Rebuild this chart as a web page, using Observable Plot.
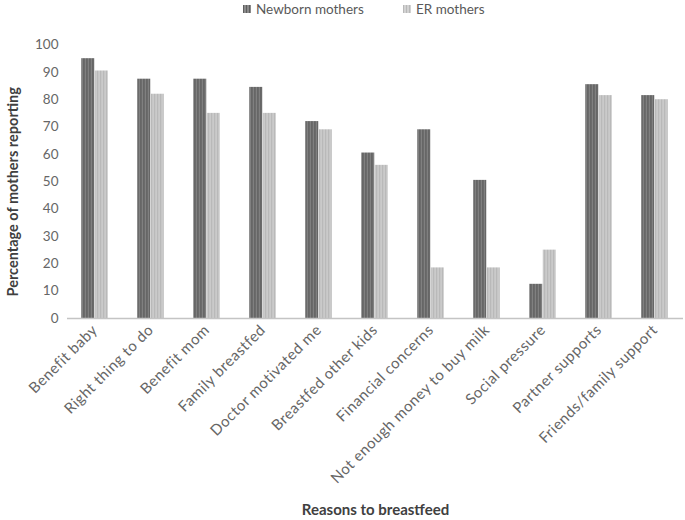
<!DOCTYPE html>
<html>
<head>
<meta charset="utf-8">
<script src="https://cdn.jsdelivr.net/npm/d3@7"></script>
<script src="https://cdn.jsdelivr.net/npm/@observablehq/plot@0.6"></script>
<style>
  body { margin: 0; background: #fff; font-family: Lato, "Open Sans", sans-serif; }
  #legend { height: 20px; position: relative; font-size: 13.5px; color: #595959; }
  .item { position: absolute; top: 1px; display: flex; align-items: center; white-space: nowrap; }
  .sw { width: 8px; height: 8px; margin-right: 5px; }
</style>
</head>
<body>
<div id="legend"></div>
<div id="chart"></div>
<script>
const categories = ["Benefit baby", "Right thing to do", "Benefit mom", "Family breastfed", "Doctor motivated me", "Breastfed other kids", "Financial concerns", "Not enough money to buy milk", "Social pressure", "Partner supports", "Friends/family support"];
const newborn = [95, 87.5, 87.5, 84.5, 72, 60.5, 69, 50.5, 12.5, 85.5, 81.5];
const er = [90.5, 82, 75, 75, 69, 56, 18.5, 18.5, 25, 81.5, 80];
const seriesNames = ["Newborn mothers", "ER mothers"];
const yTicks = [0, 10, 20, 30, 40, 50, 60, 70, 80, 90, 100];

const legend = document.getElementById("legend");
const legendX = [243, 403];
const legendFill = ["repeating-linear-gradient(90deg,#5e5e5e 0 1.5px,#8a8a8a 1.5px 3px)", "repeating-linear-gradient(90deg,#b8b8b8 0 1.5px,#d2d2d2 1.5px 3px)"];
seriesNames.forEach((s, i) => {
  const it = document.createElement("div");
  it.className = "item";
  it.style.left = legendX[i] + "px";
  it.innerHTML = `<span class="sw" style="background:${legendFill[i]}"></span><span>${s}</span>`;
  legend.appendChild(it);
});

const chart = Plot.plot({
  width: 685,
  height: 500,
  marginLeft: 67,
  marginRight: 2,
  marginTop: 24.5,
  marginBottom: 202,
  style: { fontFamily: "Lato, 'Open Sans', sans-serif", fontSize: "13px", color: "#595959", background: "#fff", overflow: "visible" },
  x: { domain: categories, paddingInner: 0.76, paddingOuter: 0.38, label: null },
  y: { domain: [0, 100], label: null },
  marks: [
    Plot.barY(categories, { x: categories, y: newborn, dx: -6.75, fill: "url(#pNB)" }),
    Plot.barY(categories, { x: categories, y: er, dx: 6.75, fill: "url(#pER)" }),
    Plot.ruleY([0], { stroke: "#c4c4c4", strokeWidth: 1.5 }),
    Plot.axisY(yTicks, { ticks: yTicks, tickSize: 0, tickPadding: 9, label: null, fontSize: 13.5, fill: "#666" }),
    Plot.axisX({ tickSize: 0, tickPadding: 9, tickRotate: -45, label: null, fontSize: 15, fill: "#666" }),
    Plot.text(["Percentage of mothers reporting"], { frameAnchor: "left", textAnchor: "middle", dx: -54, dy: 10, rotate: -90, fontWeight: "bold", fontSize: 14.5, fill: "#404040" }),
    Plot.text(["Reasons to breastfeed"], { frameAnchor: "bottom", textAnchor: "middle", dy: 196, fontWeight: "bold", fontSize: 15, fill: "#404040" })
  ]
});

const defs = `<defs>
<pattern id="pNB" patternUnits="userSpaceOnUse" width="3" height="10"><rect width="3" height="10" fill="#858585"/><rect width="1.5" height="10" fill="#5c5c5c"/></pattern>
<pattern id="pER" patternUnits="userSpaceOnUse" width="3" height="10"><rect width="3" height="10" fill="#d0d0d0"/><rect width="1.5" height="10" fill="#b6b6b6"/></pattern>
</defs>`;
chart.insertAdjacentHTML("afterbegin", defs);
d3.select(chart).selectAll('g[aria-label="x-axis tick label"] text').attr("letter-spacing", "0.5px");
document.getElementById("chart").appendChild(chart);
</script>
</body>
</html>
